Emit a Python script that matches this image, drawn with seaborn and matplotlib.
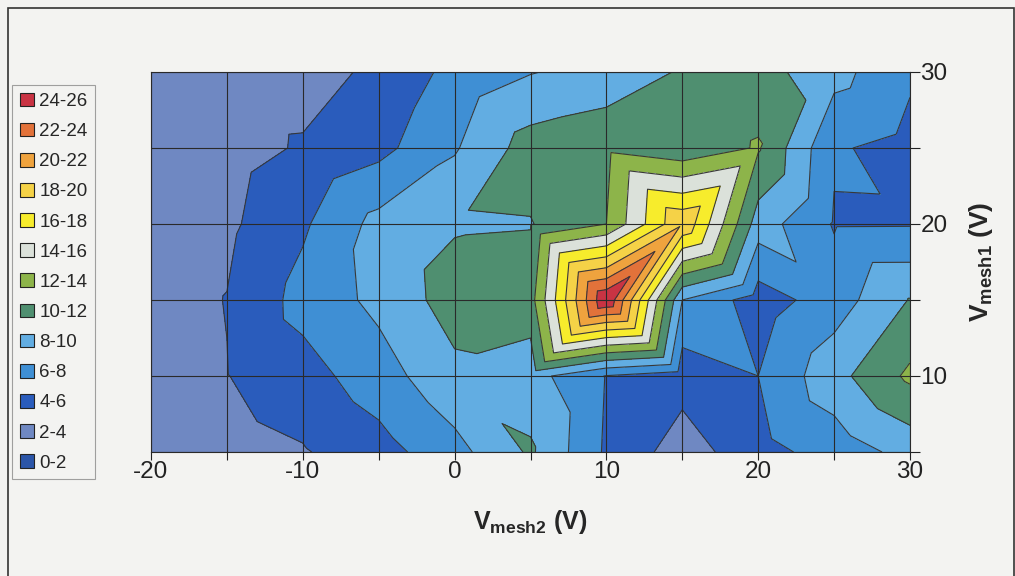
import numpy as np
import matplotlib
matplotlib.use("Agg")
import matplotlib.pyplot as plt
import matplotlib.tri as mtri
from matplotlib.patches import Patch, Rectangle
import seaborn as sns

# Grid of bias voltages
v_mesh2 = [-20, -15, -10, -5, 0, 5, 10, 15, 20, 25, 30]
v_mesh1 = [5, 10, 15, 20, 25, 30]

# Measured signal, one list per V_mesh1 row (V_mesh2 from -20 to 30)
signal_5 = [2.9, 3.2, 3.84, 5.2, 7.3, 10.3, 5.7, 3.0, 5.3, 6.8, 8.7]
signal_10 = [3.0, 3.95, 5.2, 7.1, 9.5, 8.8, 5.9, 4.8, 6.0, 9.3, 12.4]
signal_15 = [3.2, 4.05, 6.7, 8.5, 10.9, 11.2, 25.9, 8.0, 5.0, 7.0, 10.1]
signal_20 = [3.1, 3.6, 5.7, 8.65, 9.8, 9.9, 12.0, 19.8, 9.0, 5.85, 5.87]
signal_25 = [3.0, 3.2, 4.2, 5.4, 7.8, 10.9, 11.5, 10.4, 12.2, 6.2, 5.4]
signal_30 = [2.9, 3.1, 3.2, 4.4, 6.6, 7.9, 8.7, 10.2, 10.8, 8.7, 6.3]

band_labels = ["0-2", "2-4", "4-6", "6-8", "8-10", "10-12", "12-14",
               "14-16", "16-18", "18-20", "20-22", "22-24", "24-26"]
band_colors = ["#2b55a8", "#6f88c2", "#2a5cbc", "#3f8fd4", "#62ade2",
               "#4f8f70", "#8db44a", "#dbe1da", "#f7ec2c", "#f5d247",
               "#efa33e", "#e2723a", "#c93343"]

sns.set_theme(style="white")
plt.rcParams["font.family"] = ["Liberation Sans", "DejaVu Sans"]
plt.rcParams["mathtext.fontset"] = "custom"
plt.rcParams["mathtext.rm"] = "Liberation Sans"
plt.rcParams["mathtext.bf"] = "Liberation Sans:bold"

Z = np.array([signal_5, signal_10, signal_15, signal_20, signal_25, signal_30])
X, Y = np.meshgrid(v_mesh2, v_mesh1)
nx, ny = len(v_mesh2), len(v_mesh1)

# split every grid cell into two triangles along its higher diagonal
triangles = []
for j in range(ny - 1):
    for i in range(nx - 1):
        a = j * nx + i            # lower left
        b = j * nx + i + 1        # lower right
        c = (j + 1) * nx + i      # upper left
        d = (j + 1) * nx + i + 1  # upper right
        if Z[j, i] + Z[j + 1, i + 1] >= Z[j + 1, i] + Z[j, i + 1]:
            triangles += [[a, b, d], [a, d, c]]
        else:
            triangles += [[a, b, c], [b, d, c]]
tri = mtri.Triangulation(X.ravel(), Y.ravel(), triangles)

levels = np.arange(0, 28, 2)

fig = plt.figure(figsize=(10.15, 5.76), dpi=100)
fig.patch.set_facecolor("#f3f3f1")
fig.patches.append(Rectangle((8 / 1015, -0.01), 0.999 - 8 / 1015, 1 - 8 / 576 + 0.01,
                             transform=fig.transFigure, fill=False,
                             edgecolor="#333333", linewidth=1.2))

ax = fig.add_axes([151 / 1015, 1 - 452 / 576, (910 - 151) / 1015, (452 - 72) / 576])
ax.tricontourf(tri, Z.ravel(), levels=levels, colors=band_colors, zorder=0)
ax.tricontour(tri, Z.ravel(), levels=levels[1:-1], colors="#383838",
              linewidths=0.8, zorder=1)

ax.set_xlim(-20, 30)
ax.set_ylim(5, 30)
ax.set_xticks(np.arange(-20, 31, 5))
ax.set_xticklabels([str(v) if v % 10 == 0 else "" for v in range(-20, 31, 5)])
ax.set_yticks(np.arange(5, 31, 5))
ax.set_yticklabels([str(v) if v % 10 == 0 else "" for v in range(5, 31, 5)])
ax.yaxis.tick_right()
ax.yaxis.set_label_position("right")
ax.tick_params(axis="both", labelsize=17.5, colors="#222222", width=0.8,
               direction="out")
ax.tick_params(axis="x", bottom=True, length=6, pad=0.5)
ax.tick_params(axis="y", right=True, length=7, pad=0.5)
ax.grid(True, color="#2a2a2a", linewidth=0.8)
ax.set_axisbelow(False)
for s in ax.spines.values():
    s.set_color("#2a2a2a")
    s.set_linewidth(0.8)

ax.set_xlabel(r"$\mathbf{V}_{\mathbf{mesh2}}$ (V)", fontsize=18, fontweight="bold",
              labelpad=18)
ax.set_ylabel(r"$\mathbf{V}_{\mathbf{mesh1}}$ (V)", fontsize=19, fontweight="bold",
              labelpad=14)

handles = [Patch(facecolor=c, edgecolor="#222222", linewidth=0.8, label=l)
           for c, l in zip(band_colors, band_labels)][::-1]
leg = fig.legend(handles=handles, loc="upper left",
                 bbox_to_anchor=(12 / 1015, 1 - 85 / 576), fontsize=13.5,
                 frameon=True, fancybox=False, handlelength=0.75, handleheight=0.75,
                 handletextpad=0.3, labelspacing=0.68, borderpad=0.4,
                 borderaxespad=0)
leg.get_frame().set_edgecolor("#8a8a8a")
leg.get_frame().set_facecolor("#f3f3f1")
leg.get_frame().set_linewidth(0.8)

fig.savefig("out.png", dpi=100, facecolor=fig.get_facecolor())
